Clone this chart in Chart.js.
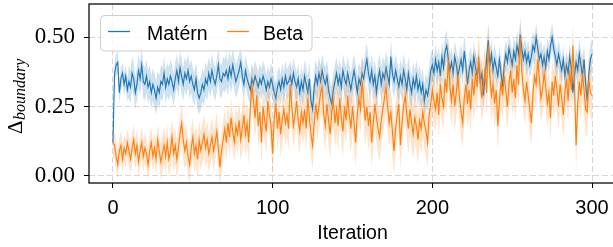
<!DOCTYPE html>
<html>
<head>
<meta charset="utf-8">
<script src="https://cdn.jsdelivr.net/npm/chart.js@4.4.1/dist/chart.umd.min.js"></script>
<style>
  html, body { margin: 0; padding: 0; background: #fff; overflow: hidden; }
  #wrap { width: 620px; height: 247px; }
</style>
</head>
<body>
<div id="wrap"><canvas id="chart" width="620" height="247"></canvas></div>
<script>
// Axis ticks
const tickX = [0, 100, 200, 300];
const tickY = [0, 0.25, 0.5];
const seriesNames = ["Matérn", "Beta"];

// Mean Δ_boundary per iteration (0..300)
const matern = [
  0.12, 0.37, 0.40, 0.41, 0.30, 0.35, 0.37, 0.33, 0.36, 0.31,
  0.34, 0.32, 0.37, 0.35, 0.30, 0.33, 0.38, 0.35, 0.40, 0.34,
  0.33, 0.36, 0.32, 0.34, 0.30, 0.33, 0.31, 0.28, 0.32, 0.30,
  0.34, 0.33, 0.37, 0.32, 0.35, 0.33, 0.36, 0.34, 0.31, 0.35,
  0.38, 0.34, 0.39, 0.36, 0.33, 0.37, 0.35, 0.38, 0.34, 0.36,
  0.33, 0.31, 0.35, 0.30, 0.28, 0.30, 0.33, 0.31, 0.35, 0.33,
  0.37, 0.34, 0.38, 0.35, 0.33, 0.36, 0.40, 0.35, 0.34, 0.37,
  0.36, 0.38, 0.35, 0.39, 0.36, 0.40, 0.37, 0.34, 0.36, 0.38,
  0.41, 0.36, 0.33, 0.38, 0.35, 0.33, 0.31, 0.35, 0.33, 0.36,
  0.34, 0.32, 0.35, 0.33, 0.36, 0.34, 0.31, 0.34, 0.32, 0.35,
  0.33, 0.30, 0.28, 0.32, 0.34, 0.31, 0.35, 0.32, 0.36, 0.33,
  0.34, 0.36, 0.33, 0.37, 0.34, 0.32, 0.35, 0.30, 0.34, 0.31,
  0.36, 0.33, 0.30, 0.35, 0.27, 0.24, 0.32, 0.36, 0.33, 0.37,
  0.34, 0.38, 0.35, 0.33, 0.36, 0.31, 0.28, 0.26, 0.31, 0.34,
  0.37, 0.33, 0.36, 0.32, 0.38, 0.35, 0.33, 0.37, 0.34, 0.31,
  0.35, 0.38, 0.34, 0.30, 0.35, 0.33, 0.37, 0.35, 0.39, 0.42,
  0.37, 0.34, 0.38, 0.33, 0.36, 0.30, 0.35, 0.38, 0.33, 0.37,
  0.35, 0.39, 0.36, 0.33, 0.43, 0.37, 0.34, 0.38, 0.35, 0.32,
  0.36, 0.33, 0.38, 0.35, 0.31, 0.37, 0.33, 0.30, 0.35, 0.32,
  0.36, 0.31, 0.34, 0.30, 0.33, 0.27, 0.31, 0.29, 0.33, 0.38,
  0.40, 0.37, 0.42, 0.38, 0.41, 0.36, 0.43, 0.39, 0.45, 0.47,
  0.42, 0.38, 0.41, 0.37, 0.43, 0.40, 0.36, 0.39, 0.42, 0.38,
  0.45, 0.40, 0.33, 0.38, 0.41, 0.37, 0.43, 0.39, 0.36, 0.40,
  0.34, 0.37, 0.29, 0.36, 0.42, 0.49, 0.40, 0.44, 0.38, 0.42,
  0.39, 0.36, 0.42, 0.37, 0.32, 0.40, 0.44, 0.41, 0.46, 0.43,
  0.40, 0.45, 0.42, 0.47, 0.44, 0.51, 0.46, 0.42, 0.45, 0.41,
  0.44, 0.40, 0.43, 0.47, 0.45, 0.50, 0.46, 0.42, 0.44, 0.40,
  0.43, 0.39, 0.45, 0.42, 0.47, 0.50, 0.46, 0.43, 0.40, 0.44,
  0.41, 0.38, 0.42, 0.36, 0.40, 0.37, 0.43, 0.39, 0.30, 0.36,
  0.41, 0.38, 0.44, 0.40, 0.36, 0.42, 0.33, 0.27, 0.37, 0.42,
  0.44
];

const beta = [
  0.12, 0.11, 0.07, 0.04, 0.09, 0.11, 0.06, 0.10, 0.08, 0.12,
  0.09, 0.06, 0.10, 0.13, 0.08, 0.11, 0.05, 0.09, 0.12, 0.07,
  0.10, 0.08, 0.04, 0.09, 0.12, 0.07, 0.10, 0.06, 0.13, 0.09,
  0.05, 0.08, 0.11, 0.07, 0.12, 0.06, 0.09, 0.14, 0.08, 0.11,
  0.06, 0.10, 0.15, 0.19, 0.13, 0.09, 0.12, 0.07, 0.04, 0.10,
  0.14, 0.08, 0.11, 0.06, 0.13, 0.09, 0.12, 0.15, 0.10, 0.13,
  0.08, 0.11, 0.14, 0.09, 0.12, 0.16, 0.10, 0.03, 0.09, 0.13,
  0.17, 0.12, 0.19, 0.14, 0.21, 0.16, 0.12, 0.18, 0.15, 0.20,
  0.13, 0.17, 0.22, 0.15, 0.19, 0.12, 0.24, 0.33, 0.27, 0.21,
  0.29, 0.18, 0.23, 0.12, 0.25, 0.20, 0.16, 0.27, 0.22, 0.18,
  0.08, 0.21, 0.26, 0.17, 0.23, 0.15, 0.20, 0.24, 0.19, 0.22,
  0.17, 0.33, 0.25, 0.18, 0.22, 0.27, 0.20, 0.16, 0.23, 0.19,
  0.24, 0.17, 0.28, 0.21, 0.15, 0.11, 0.19, 0.26, 0.21, 0.25,
  0.30, 0.32, 0.22, 0.18, 0.26, 0.20, 0.15, 0.23, 0.27, 0.19,
  0.24, 0.18, 0.28, 0.21, 0.16, 0.25, 0.20, 0.29, 0.22, 0.17,
  0.25, 0.19, 0.12, 0.22, 0.28, 0.24, 0.34, 0.27, 0.20, 0.25,
  0.18, 0.23, 0.12, 0.19, 0.26, 0.21, 0.17, 0.14, 0.20, 0.24,
  0.28, 0.32, 0.25, 0.19, 0.23, 0.16, 0.09, 0.17, 0.22, 0.26,
  0.11, 0.19, 0.25, 0.29, 0.22, 0.17, 0.24, 0.19, 0.15, 0.21,
  0.18, 0.13, 0.20, 0.17, 0.23, 0.19, 0.16, 0.12, 0.22, 0.26,
  0.31, 0.27, 0.24, 0.30, 0.22, 0.33, 0.28, 0.25, 0.35, 0.30,
  0.42, 0.32, 0.27, 0.33, 0.25, 0.30, 0.36, 0.28, 0.23, 0.19,
  0.28, 0.33, 0.26, 0.31, 0.24, 0.35, 0.29, 0.37, 0.32, 0.43,
  0.35, 0.28, 0.33, 0.39, 0.30, 0.47, 0.36, 0.29, 0.33, 0.26,
  0.31, 0.18, 0.27, 0.34, 0.29, 0.36, 0.31, 0.25, 0.33, 0.38,
  0.30, 0.35, 0.28, 0.40, 0.33, 0.50, 0.38, 0.31, 0.27, 0.34,
  0.29, 0.24, 0.19, 0.30, 0.36, 0.33, 0.42, 0.35, 0.28, 0.31,
  0.37, 0.32, 0.26, 0.30, 0.21, 0.34, 0.29, 0.36, 0.31, 0.25,
  0.33, 0.28, 0.22, 0.30, 0.35, 0.27, 0.38, 0.31, 0.47, 0.33,
  0.11, 0.26, 0.34, 0.29, 0.37, 0.31, 0.24, 0.23, 0.35, 0.30,
  0.29
];

// Half-width of the shaded band, one value per block of 10 iterations
const maternSpread = [
  0.040, 0.060, 0.060, 0.060, 0.060, 0.060, 0.060, 0.060, 0.055, 0.055,
  0.055, 0.055, 0.060, 0.060, 0.060, 0.060, 0.060, 0.060, 0.060, 0.060,
  0.055, 0.055, 0.055, 0.055, 0.050, 0.050, 0.050, 0.050, 0.050, 0.055,
  0.055
];
const betaSpread = [
  0.050, 0.055, 0.055, 0.065, 0.070, 0.070, 0.070, 0.070, 0.080, 0.080,
  0.080, 0.080, 0.085, 0.090, 0.090, 0.090, 0.090, 0.090, 0.090, 0.090,
  0.085, 0.090, 0.090, 0.090, 0.085, 0.085, 0.085, 0.085, 0.085, 0.090,
  0.090
];

const blue = "#1f77b4";
const orange = "#ff7f0e";

const line = arr => arr.map((v, i) => ({ x: i, y: v }));
const band = (arr, spread, sign) =>
  arr.map((v, i) => ({ x: i, y: v + sign * spread[Math.floor(i / 10)] }));

function meanSet(label, arr, color) {
  return { label, data: line(arr), borderColor: color, borderWidth: 1.15,
           pointRadius: 0, fill: false, tension: 0 };
}
function bandSet(label, data, fillColor, fill) {
  return { label, data, borderColor: "transparent", borderWidth: 0.01,
           pointRadius: 0, fill, backgroundColor: fillColor, tension: 0 };
}

// Frame (all four spines), in-axes legend and y label
const framePlugin = {
  id: "frame",
  afterDatasetsDraw(chart) {
    const { ctx, chartArea: a } = chart;
    ctx.save();
    ctx.strokeStyle = "#000";
    ctx.lineWidth = 1.25;
    ctx.strokeRect(a.left, a.top, a.right - a.left, a.bottom - a.top);

    // legend box
    const x = 100.5, y = 15.5, w = 211.5, h = 35.5, r = 4;
    ctx.beginPath();
    ctx.roundRect(x, y, w, h, r);
    ctx.fillStyle = "rgba(255,255,255,0.8)";
    ctx.fill();
    ctx.strokeStyle = "#cccccc";
    ctx.lineWidth = 1;
    ctx.stroke();

    ctx.lineWidth = 1.3;
    ctx.strokeStyle = blue;
    ctx.beginPath(); ctx.moveTo(108, 31.5); ctx.lineTo(130, 31.5); ctx.stroke();
    ctx.strokeStyle = orange;
    ctx.beginPath(); ctx.moveTo(227, 31.5); ctx.lineTo(249, 31.5); ctx.stroke();

    ctx.fillStyle = "#000";
    ctx.font = '19.5px "Liberation Sans"';
    ctx.textBaseline = "alphabetic";
    ctx.textAlign = "left";
    ctx.fillText(seriesNames[0], 147, 39.5);
    ctx.fillText(seriesNames[1], 263, 39.5);
    ctx.restore();
  },
  afterDraw(chart) {
    const { ctx } = chart;
    ctx.save();
    ctx.translate(22, 134);
    ctx.rotate(-Math.PI / 2);
    ctx.fillStyle = "#000";
    ctx.textBaseline = "alphabetic";
    ctx.textAlign = "left";
    ctx.font = '21px "Liberation Serif"';
    ctx.fillText("Δ", 0, 0);
    const w = ctx.measureText("Δ").width;
    ctx.font = 'italic 16px "Liberation Serif"';
    ctx.fillText("boundary", w + 0.5, 3);
    ctx.restore();
  }
};

new Chart(document.getElementById("chart"), {
  type: "line",
  data: {
    datasets: [
      meanSet(seriesNames[1], beta, orange),
      bandSet("Beta upper", band(beta, betaSpread, 1), "rgba(255,127,14,0.22)", "+1"),
      bandSet("Beta lower", band(beta, betaSpread, -1), "transparent", false),
      meanSet(seriesNames[0], matern, blue),
      bandSet("Matérn upper", band(matern, maternSpread, 1), "rgba(31,119,180,0.22)", "+1"),
      bandSet("Matérn lower", band(matern, maternSpread, -1), "transparent", false)
    ]
  },
  options: {
    responsive: false,
    animation: false,
    devicePixelRatio: 1,
    layout: { padding: { top: 4, right: 4, left: 0, bottom: 0 } },
    plugins: { legend: { display: false }, tooltip: { enabled: false } },
    scales: {
      x: {
        type: "linear",
        min: -15,
        max: 315,
        afterBuildTicks: s => { s.ticks = tickX.map(v => ({ value: v })); },
        afterFit: s => { s.height = 64; s.paddingLeft = 0; s.paddingRight = 0; },
        grid: { color: "#d6d6d6", lineWidth: 1, tickLength: 5, tickColor: "#000", tickWidth: 1 },
        border: { display: false, dash: [6, 3] },
        ticks: { color: "#000", padding: 8, maxRotation: 0,
                 font: { family: "Liberation Sans", size: 20 } },
        title: { display: true, text: "Iteration", color: "#000",
                 font: { family: "Liberation Sans", size: 19.5 },
                 padding: { top: 0, bottom: 2 } }
      },
      y: {
        min: -0.026,
        max: 0.62,
        afterBuildTicks: s => { s.ticks = tickY.map(v => ({ value: v })); },
        afterFit: s => { s.width = 89; s.paddingTop = 0; s.paddingBottom = 0; },
        grid: { color: "#d6d6d6", lineWidth: 1, tickLength: 5, tickColor: "#000", tickWidth: 1 },
        border: { display: false, dash: [6, 3] },
        ticks: { color: "#000", padding: 9,
                 font: { family: "Liberation Serif", size: 23 },
                 callback: v => v.toFixed(2) }
      }
    }
  },
  plugins: [framePlugin]
});
</script>
</body>
</html>
